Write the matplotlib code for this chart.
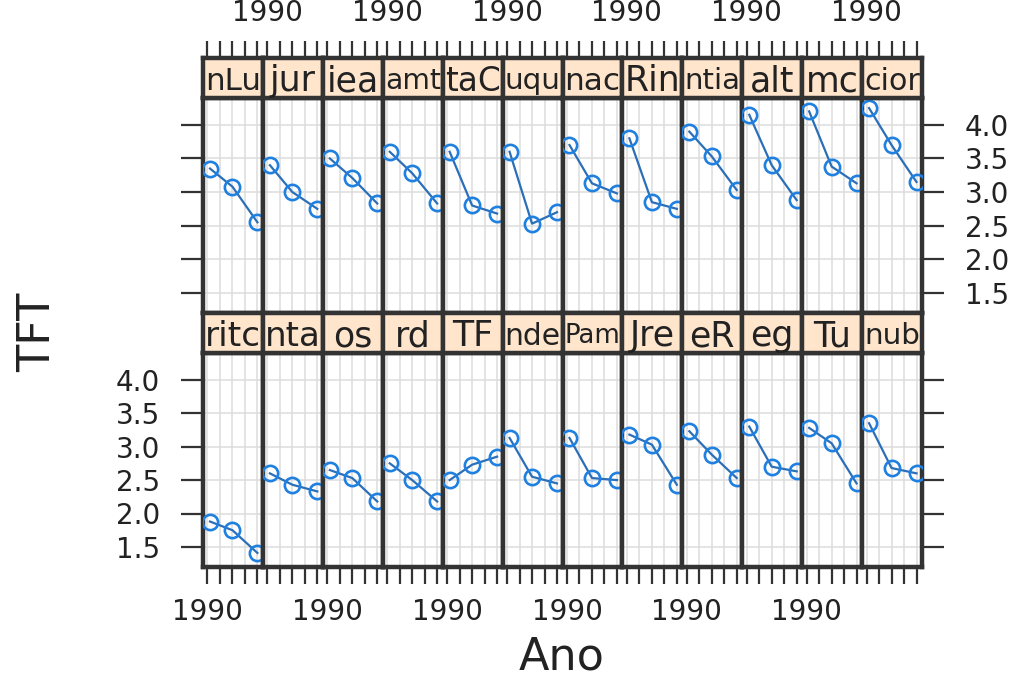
import matplotlib.pyplot as plt

plt.rcParams['font.family'] = ['DejaVu Sans']

anos = [1991, 2000, 2010]

# linha de cima do painel (da esquerda para a direita)
rotulos_cima = ["nLu", "jur", "iea", "amt", "taC", "uqu",
                "nac", "Rin", "ntia", "alt", "mc", "cior"]
tft_cima = [
    [3.35, 3.08, 2.55],
    [3.40, 3.00, 2.75],
    [3.50, 3.21, 2.83],
    [3.60, 3.28, 2.83],
    [3.60, 2.80, 2.68],
    [3.60, 2.53, 2.70],
    [3.70, 3.13, 2.98],
    [3.80, 2.85, 2.75],
    [3.90, 3.53, 3.03],
    [4.15, 3.40, 2.88],
    [4.20, 3.38, 3.13],
    [4.25, 3.70, 3.15],
]

# linha de baixo
rotulos_baixo = ["ritc", "nta", "os", "rd", "TF", "nde",
                 "Pam", "Jre", "eR", "eg", "Tu", "nub"]
tft_baixo = [
    [1.88, 1.75, 1.41],
    [2.60, 2.43, 2.33],
    [2.65, 2.53, 2.18],
    [2.75, 2.50, 2.18],
    [2.50, 2.73, 2.85],
    [3.13, 2.55, 2.45],
    [3.13, 2.53, 2.50],
    [3.18, 3.03, 2.43],
    [3.23, 2.88, 2.53],
    [3.30, 2.70, 2.63],
    [3.28, 3.05, 2.45],
    [3.35, 2.68, 2.60],
]

ticks_x = [1990, 1995, 2000, 2005, 2010]
ticks_y = [1.5, 2.0, 2.5, 3.0, 3.5, 4.0]

W, H = 1032, 677
fig = plt.figure(figsize=(W / 100, H / 100), dpi=100)
renderer = fig.canvas.get_renderer()

x0, x1 = 203, 922
larg = (x1 - x0) / 12
xlim = (1988.2, 2012.2)


def caixa(x, y_topo, w, h):
    # posicao em pixels (a partir do topo) -> fracao da figura
    return [x / W, 1 - (y_topo + h) / H, w / W, h / H]


azul = '#1f80e0'
borda = '#333333'
texto = '#222222'
tam_ticks = 20
tam_faixa = 25

# (topo da faixa, topo do painel, base do painel, rotulos, valores)
linhas = [
    (58, 98, 313, rotulos_cima, tft_cima),
    (313, 353, 567, rotulos_baixo, tft_baixo),
]

for r, (y_faixa, y_painel, y_base, rotulos, valores) in enumerate(linhas):
    for c in range(12):
        xl = x0 + c * larg
        ax = fig.add_axes(caixa(xl, y_painel, larg, y_base - y_painel))
        ax.set_xlim(*xlim)
        ax.set_ylim(1.2, 4.4)
        ax.set_xticks(ticks_x)
        ax.set_xticklabels(['1990', '', '', '', ''])
        ax.set_yticks(ticks_y)
        ax.set_yticklabels([f'{v:.1f}' for v in ticks_y])
        ax.grid(True, color='#dcdcdc', lw=1.1)
        ax.set_axisbelow(True)
        ax.plot(anos, valores[c], '-', color='#2a6fb8', lw=1.6, zorder=3)
        ax.plot(anos, valores[c], 'o', color=azul, mfc='none',
                ms=11, mew=1.9, zorder=4)
        for s in ax.spines.values():
            s.set_color(borda)
            s.set_linewidth(3.2)

        # eixo x da linha de baixo
        ax.tick_params(axis='x', top=False, labeltop=False,
                       bottom=(r == 1), labelbottom=(r == 1 and c % 2 == 0),
                       direction='out', length=12, width=1.6, color=borda,
                       labelsize=tam_ticks, labelcolor=texto, pad=10)

        # eixo y: so nas colunas das pontas, alternando os rotulos
        ax.tick_params(axis='y', left=(c == 0), right=(c == 11),
                       labelleft=(c == 0 and r == 1),
                       labelright=(c == 11 and r == 0),
                       direction='out', length=16, width=1.6, color=borda,
                       labelsize=tam_ticks, labelcolor=texto, pad=15)

        # faixa com o nome (na linha de cima ela leva o eixo x de cima)
        fx = fig.add_axes(caixa(xl, y_faixa, larg, y_painel - y_faixa))
        fx.set_facecolor('#ffe5cc')
        fx.set_xlim(*xlim)
        fx.set_xticks(ticks_x)
        fx.set_xticklabels(['1990', '', '', '', ''])
        fx.set_yticks([])
        fx.tick_params(axis='x', bottom=False, labelbottom=False,
                       top=(r == 0), labeltop=(r == 0 and c % 2 == 1),
                       direction='out', length=12, width=1.6, color=borda,
                       labelsize=tam_ticks, labelcolor=texto, pad=10)
        for s in fx.spines.values():
            s.set_color(borda)
            s.set_linewidth(3.2)
        t = fx.text(0.5, 0.42, rotulos[c], transform=fx.transAxes,
                    ha='center', va='center', fontsize=tam_faixa,
                    color=texto, clip_on=True)
        # reduz o nome que nao cabe na faixa
        w = t.get_window_extent(renderer).width
        if w > larg - 4:
            t.set_fontsize(tam_faixa * (larg - 4) / w)

fig.text(38 / W, 1 - 332 / H, 'TFT', rotation=90, fontsize=32,
         ha='center', va='center', color=texto)
fig.text(562 / W, 1 - 657 / H, 'Ano', fontsize=32,
         ha='center', va='center', color=texto)

fig.savefig('out.png', dpi=100)
